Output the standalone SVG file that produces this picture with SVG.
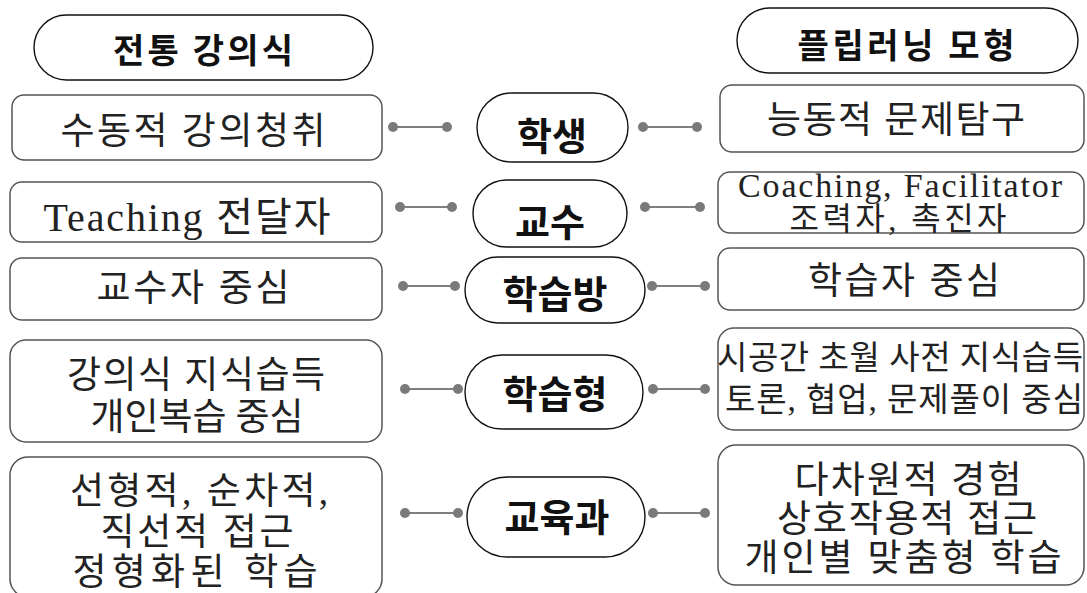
<svg xmlns="http://www.w3.org/2000/svg" width="1087" height="593" viewBox="0 0 1087 593">
<style>
.box{fill:#fff;stroke:#555;stroke-width:1.5}
.pill{fill:#fff;stroke:#111;stroke-width:1.4}
.body{font-family:"Liberation Serif","Noto Sans CJK KR",serif;font-size:37px;fill:#222;text-anchor:middle;dominant-baseline:central}
.head{font-family:"Noto Sans CJK KR","Noto Sans",sans-serif;font-size:34px;font-weight:700;fill:#111;text-anchor:middle;dominant-baseline:central}
.mid{font-size:38px}
.conn line{stroke:#555;stroke-width:1.5}
.conn circle{fill:#7a7a7a}
</style>
<rect width="1087" height="593" fill="#fff"/>

<g id="hdr-left"><rect class="pill" x="34" y="15" width="339" height="65" rx="32.5"/><text class="head" x="203" y="48" textLength="180" lengthAdjust="spacing">전통 강의식</text></g>
<g id="hdr-right"><rect class="pill" x="737" y="8" width="341" height="65" rx="32.5"/><text class="head" x="906" y="43" textLength="217" lengthAdjust="spacing">플립러닝 모형</text></g>

<g id="c1"><rect class="pill" x="477" y="93" width="151" height="69" rx="34.5"/><text class="head mid" x="552" y="133">학생</text></g>
<g id="c2"><rect class="pill" x="473" y="180" width="154" height="67" rx="33.5"/><text class="head mid" x="550" y="219">교수</text></g>
<g id="c3"><rect class="pill" x="465" y="257" width="180" height="66" rx="33"/><text class="head mid" x="555" y="291">학습방</text></g>
<g id="c4"><rect class="pill" x="465" y="355" width="178" height="74" rx="37"/><text class="head mid" x="555" y="391">학습형</text></g>
<g id="c5"><rect class="pill" x="467" y="477" width="178" height="80" rx="40"/><text class="head mid" x="557" y="514">교육과</text></g>

<g id="l1"><rect class="box" x="12" y="95" width="370" height="65" rx="12"/><text class="body" x="193" y="131" textLength="265" lengthAdjust="spacing">수동적 강의청취</text></g>
<g id="l2"><rect class="box" x="10" y="182" width="372" height="60" rx="12"/><text class="body" x="187" y="217" style="font-size:40px" textLength="287" lengthAdjust="spacing">Teaching 전달자</text></g>
<g id="l3"><rect class="box" x="10" y="258" width="372" height="62" rx="12"/><text class="body" x="193" y="288" textLength="193" lengthAdjust="spacing">교수자 중심</text></g>
<g id="l4"><rect class="box" x="10" y="340" width="372" height="102" rx="16"/>
<text class="body" x="196" y="375" textLength="258" lengthAdjust="spacing">강의식 지식습득</text>
<text class="body" x="197" y="417" textLength="213" lengthAdjust="spacing">개인복습 중심</text></g>
<g id="l5"><rect class="box" x="10" y="457" width="372" height="140" rx="18"/>
<text class="body" x="199" y="491" textLength="258" lengthAdjust="spacing">선형적, 순차적,</text>
<text class="body" x="197" y="532" textLength="193" lengthAdjust="spacing">직선적 접근</text>
<text class="body" x="195" y="572" textLength="245" lengthAdjust="spacing">정형화된 학습</text></g>

<g id="r1"><rect class="box" x="720" y="85" width="364" height="67" rx="12"/><text class="body" x="896" y="120" textLength="258" lengthAdjust="spacing">능동적 문제탐구</text></g>
<g id="r2"><rect class="box" x="718" y="172" width="366" height="61" rx="12"/>
<text class="body" x="900" y="185" style="font-size:34px" textLength="324" lengthAdjust="spacing">Coaching, Facilitator</text>
<text class="body" x="898" y="219" style="font-size:32px" textLength="217" lengthAdjust="spacing">조력자, 촉진자</text></g>
<g id="r3"><rect class="box" x="718" y="248" width="366" height="62" rx="12"/><text class="body" x="904" y="281" textLength="192" lengthAdjust="spacing">학습자 중심</text></g>
<g id="r4"><rect class="box" x="718" y="328" width="366" height="102" rx="16"/>
<text class="body" x="900" y="358" style="font-size:33px" textLength="366" lengthAdjust="spacing">시공간 초월 사전 지식습득</text>
<text class="body" x="904" y="400" style="font-size:33px" textLength="358" lengthAdjust="spacing">토론, 협업, 문제풀이 중심</text></g>
<g id="r5"><rect class="box" x="718" y="445" width="366" height="140" rx="18"/>
<text class="body" x="908" y="480" textLength="227" lengthAdjust="spacing">다차원적 경험</text>
<text class="body" x="907" y="519" textLength="260" lengthAdjust="spacing">상호작용적 접근</text>
<text class="body" x="903" y="558" textLength="317" lengthAdjust="spacing">개인별 맞춤형 학습</text></g>

<g id="connectors" class="conn">
<line x1="393" y1="127" x2="447" y2="127"/><circle cx="393" cy="127" r="5"/><circle cx="447" cy="127" r="5"/>
<line x1="643" y1="127" x2="697" y2="127"/><circle cx="643" cy="127" r="5"/><circle cx="697" cy="127" r="5"/>
<line x1="400" y1="207" x2="452" y2="207"/><circle cx="400" cy="207" r="5"/><circle cx="452" cy="207" r="5"/>
<line x1="645" y1="207" x2="700" y2="207"/><circle cx="645" cy="207" r="5"/><circle cx="700" cy="207" r="5"/>
<line x1="403" y1="286" x2="455" y2="286"/><circle cx="403" cy="286" r="5"/><circle cx="455" cy="286" r="5"/>
<line x1="652" y1="286" x2="705" y2="286"/><circle cx="652" cy="286" r="5"/><circle cx="705" cy="286" r="5"/>
<line x1="405" y1="389" x2="458" y2="389"/><circle cx="405" cy="389" r="5"/><circle cx="458" cy="389" r="5"/>
<line x1="653" y1="389" x2="705" y2="389"/><circle cx="653" cy="389" r="5"/><circle cx="705" cy="389" r="5"/>
<line x1="405" y1="513" x2="458" y2="513"/><circle cx="405" cy="513" r="5"/><circle cx="458" cy="513" r="5"/>
<line x1="653" y1="513" x2="705" y2="513"/><circle cx="653" cy="513" r="5"/><circle cx="705" cy="513" r="5"/>
</g>
</svg>
